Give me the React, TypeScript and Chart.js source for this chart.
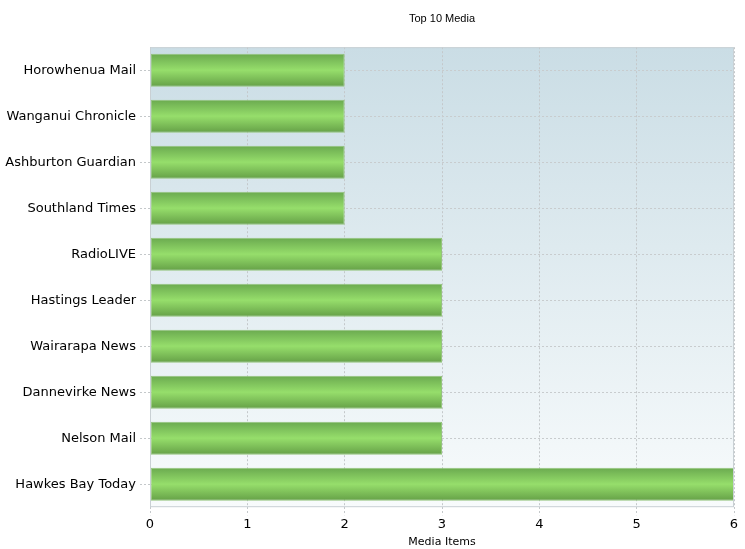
import React, { useEffect, useRef } from "react";
import { Chart, registerables } from "chart.js";

Chart.register(...registerables);

const categories = [
  "Horowhenua Mail",
  "Wanganui Chronicle",
  "Ashburton Guardian",
  "Southland Times",
  "RadioLIVE",
  "Hastings Leader",
  "Wairarapa News",
  "Dannevirke News",
  "Nelson Mail",
  "Hawkes Bay Today",
];
const mediaItems = [2, 2, 2, 2, 3, 3, 3, 3, 3, 6];
const chartTitle = "Top 10 Media";
const xAxisTitle = "Media Items";

const bgPlugin = {
  id: "plotBg",
  beforeDraw(chart: any) {
    const { ctx, chartArea } = chart;
    if (!chartArea) return;
    const g = ctx.createLinearGradient(0, chartArea.top, 0, chartArea.bottom);
    g.addColorStop(0, "#cadde5");
    g.addColorStop(1, "#f8fbfc");
    ctx.save();
    ctx.fillStyle = g;
    ctx.fillRect(chartArea.left, chartArea.top, chartArea.right - chartArea.left, chartArea.bottom - chartArea.top);
    ctx.restore();
  },
  afterDraw(chart: any) {
    const { ctx, chartArea } = chart;
    ctx.save();
    ctx.strokeStyle = "#c9d0d4";
    ctx.lineWidth = 1;
    ctx.strokeRect(chartArea.left + 0.5, chartArea.top + 0.5, chartArea.right - chartArea.left - 1, chartArea.bottom - chartArea.top - 1);
    ctx.restore();
  },
};

export default function App() {
  const ref = useRef<HTMLCanvasElement>(null);
  useEffect(() => {
    if (!ref.current) return;
    const barColor = (c: any) => {
      const chart = c.chart;
      const ys = chart.scales?.y;
      if (!ys || c.dataIndex === undefined) return "#84c65e";
      const center = ys.getPixelForValue(c.dataIndex);
      const cat = Math.abs(ys.getPixelForValue(1) - ys.getPixelForValue(0));
      const half = (cat * 0.72) / 2;
      if (!isFinite(center) || !isFinite(half) || half <= 0) return "#84c65e";
      const g = chart.ctx.createLinearGradient(0, center - half, 0, center + half);
      g.addColorStop(0, "#6aa94f");
      g.addColorStop(0.5, "#96de6b");
      g.addColorStop(1, "#65a047");
      return g;
    };
    const chart = new Chart(ref.current, {
      type: "bar",
      data: {
        labels: categories,
        datasets: [
          {
            data: mediaItems,
            backgroundColor: barColor,
            borderColor: "#94c47c",
            borderWidth: 1,
            borderSkipped: false,
            categoryPercentage: 0.8,
            barPercentage: 0.9,
          },
        ],
      },
      options: {
        indexAxis: "y",
        animation: false,
        responsive: false,
        devicePixelRatio: 1,
        layout: { padding: { left: 0, right: 11, top: 1, bottom: 0 } },
        plugins: {
          legend: { display: false },
          tooltip: { enabled: false },
          title: {
            display: true,
            text: chartTitle,
            fullSize: false,
            color: "#000",
            font: { family: "Liberation Sans", size: 11, weight: "normal" },
            padding: { top: 11, bottom: 22 },
          },
        },
        scales: {
          x: {
            min: 0,
            max: 6,
            ticks: {
              stepSize: 1,
              color: "#000",
              font: { family: "DejaVu Sans", size: 13 },
              padding: 2,
            },
            grid: {
              color: "#c4c8ca",
              tickLength: 8,
              tickBorderDash: [2, 2],
              tickColor: "#c4c8ca",
            },
            border: { display: false, dash: [2, 2] },
            title: {
              display: true,
              text: xAxisTitle,
              color: "#000",
              font: { family: "DejaVu Sans", size: 11 },
              padding: { top: 1, bottom: 0 },
            },
          },
          y: {
            afterFit(scale: any) {
              scale.width = 150;
            },
            ticks: {
              color: "#000",
              font: { family: "DejaVu Sans", size: 13 },
              padding: 4,
            },
            grid: {
              offset: false,
              color: "#c8ccce",
              tickLength: 10,
              tickColor: "#c4c8ca",
              tickBorderDash: [2, 2],
            },
            border: { display: false, dash: [2, 2] },
          },
        },
      } as any,
      plugins: [bgPlugin],
    });
    return () => chart.destroy();
  }, []);
  return (
    <div style={{ position: "fixed", left: 0, top: 0, width: 745, height: 549, background: "#fff" }}>
      <canvas ref={ref} width={745} height={549} />
    </div>
  );
}
